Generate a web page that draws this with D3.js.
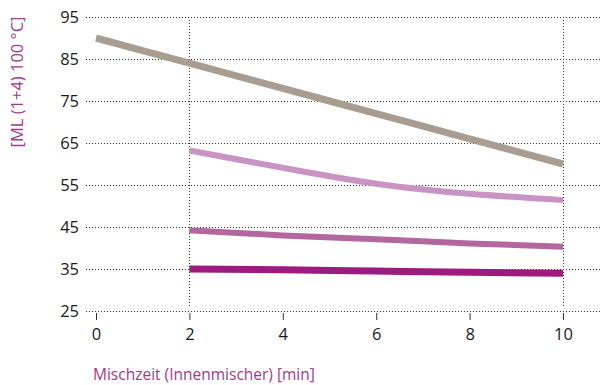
<!DOCTYPE html>
<html>
<head>
<meta charset="utf-8">
<script src="https://cdn.jsdelivr.net/npm/d3@7"></script>
<style>
  html, body { margin: 0; padding: 0; background: #fff; }
  svg { display: block; font-family: "Open Sans", "Noto Sans", sans-serif; }
</style>
</head>
<body>
<svg id="chart" width="602" height="385"></svg>
<script>
// Mooney viscosity over mixing time in an internal mixer
const xTicks = [0, 2, 4, 6, 8, 10];
const yTicks = [25, 35, 45, 55, 65, 75, 85, 95];

const greyX = [0, 2, 4, 6, 8, 10];
const greyY = [90, 84, 78, 72, 66, 60];

const lightX = [2, 4, 6, 8, 10];
const lightY = [63.2, 59.1, 55.3, 52.9, 51.4];

const midX = [2, 4, 6, 8, 10];
const midY = [44.2, 43.0, 42.1, 41.1, 40.3];

const darkX = [2, 4, 6, 8, 10];
const darkY = [35.0, 34.8, 34.5, 34.2, 34.0];

const seriesList = [
  { xs: greyX, ys: greyY, color: "#a89d90", width: 7 },
  { xs: lightX, ys: lightY, color: "#c993c4", width: 6 },
  { xs: midX, ys: midY, color: "#b4669f", width: 6 },
  { xs: darkX, ys: darkY, color: "#9d1a7f", width: 7 }
];

const svg = d3.select("#chart");
const x = d3.scaleLinear().domain([0, 10]).range([96, 563]);
const y = d3.scaleLinear().domain([25, 95]).range([311, 17]);

const dotted = { stroke: "#333", dash: "1 2" };

// horizontal grid
svg.append("g")
  .selectAll("line")
  .data(yTicks)
  .join("line")
  .attr("x1", 86).attr("x2", 602)
  .attr("y1", d => y(d) + 0.5).attr("y2", d => y(d) + 0.5)
  .attr("stroke", dotted.stroke)
  .attr("stroke-width", 1)
  .attr("stroke-dasharray", dotted.dash);

// vertical reference lines at 2 and 10 min
svg.append("g")
  .selectAll("line")
  .data([2, 10])
  .join("line")
  .attr("x1", d => Math.round(x(d)) + 0.5).attr("x2", d => Math.round(x(d)) + 0.5)
  .attr("y1", y(95) + 3).attr("y2", y(25) - 3)
  .attr("stroke", dotted.stroke)
  .attr("stroke-width", 1)
  .attr("stroke-dasharray", dotted.dash);

// y axis labels
const yAxis = d3.axisLeft(y).tickValues(yTicks).tickSize(0).tickPadding(0);
const gy = svg.append("g").attr("transform", "translate(79,0)").call(yAxis);
gy.select(".domain").remove();
gy.selectAll("text")
  .attr("font-size", 16.5)
  .attr("font-family", "'Open Sans', 'Noto Sans', sans-serif")
  .attr("fill", "#1a1a1a")
  .attr("dy", "0.34em");

// x axis ticks and labels
const xAxis = d3.axisBottom(x).tickValues(xTicks).tickSize(7).tickPadding(8);
const gx = svg.append("g").attr("transform", "translate(0,313)").call(xAxis);
gx.select(".domain").remove();
gx.selectAll(".tick line").attr("stroke", "#333").attr("stroke-width", 1);
gx.selectAll("text")
  .attr("font-size", 16.5)
  .attr("font-family", "'Open Sans', 'Noto Sans', sans-serif")
  .attr("fill", "#1a1a1a");

// curves
const line = d3.line()
  .x(d => x(d[0]))
  .y(d => y(d[1]))
  .curve(d3.curveNatural);

svg.append("g")
  .selectAll("path")
  .data(seriesList)
  .join("path")
  .attr("d", s => line(s.xs.map((v, i) => [v, s.ys[i]])))
  .attr("fill", "none")
  .attr("stroke", s => s.color)
  .attr("stroke-width", s => s.width)
  .attr("stroke-linecap", "butt");

// axis titles
svg.append("text")
  .attr("transform", "translate(23,82) rotate(-90)")
  .attr("text-anchor", "middle")
  .attr("font-size", 16.5)
  .attr("fill", "#a33a8c")
  .text("[ML (1+4) 100 °C]");

svg.append("text")
  .attr("x", 93).attr("y", 380)
  .attr("font-size", 15.5)
  .attr("fill", "#a33a8c")
  .text("Mischzeit (Innenmischer) [min]");
</script>
</body>
</html>
